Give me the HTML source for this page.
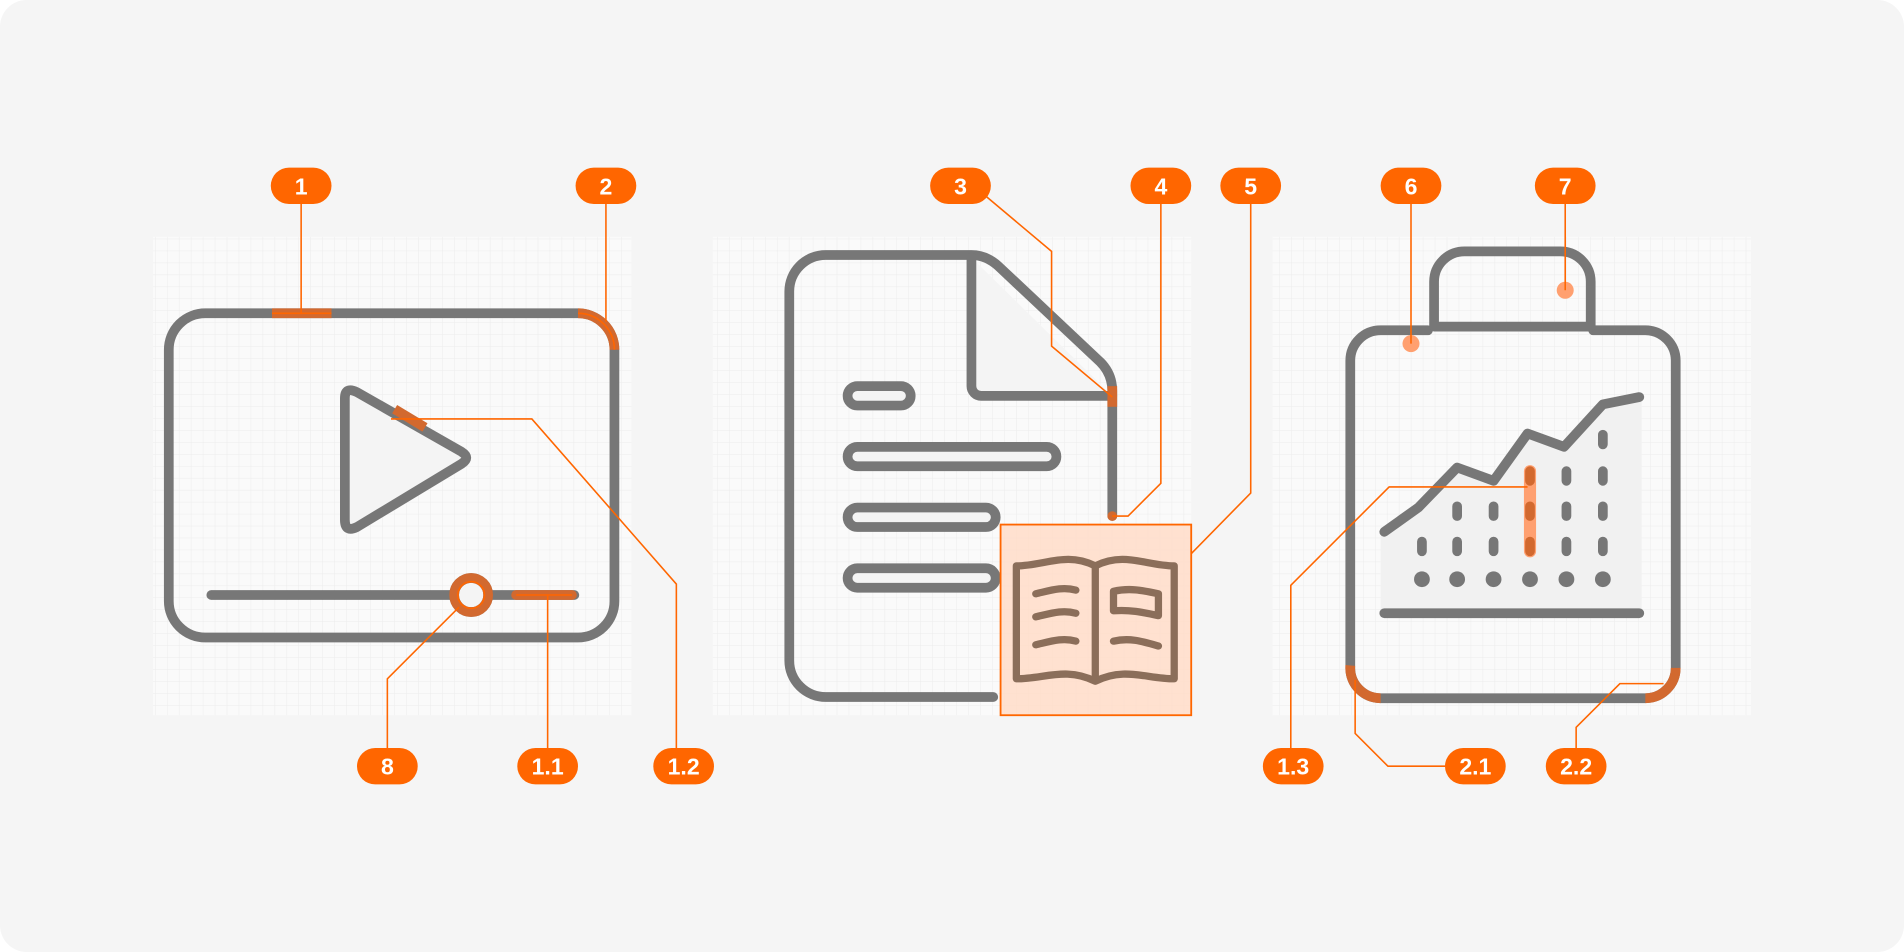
<!DOCTYPE html>
<html><head><meta charset="utf-8"><style>
html,body{margin:0;padding:0;background:#fff;}
svg{display:block;}
text{font-family:"Liberation Sans",sans-serif;font-weight:bold;font-size:19px;fill:#fff;text-anchor:middle;}
</style></head><body>
<svg width="1904" height="952" viewBox="0 0 1568 784" xmlns="http://www.w3.org/2000/svg">
<defs>
<pattern id="g" x="0" y="0" width="9.85" height="9.85" patternUnits="userSpaceOnUse">
<path d="M9.85 0V9.85H0" fill="none" stroke="#ececec" stroke-width="0.8"/>
</pattern>
</defs>
<rect x="0" y="0" width="1568" height="784" rx="22" fill="#f5f5f5"/>
<g>
<rect x="126" y="195" width="394" height="394" fill="#fafafa"/><rect x="126" y="195" width="394" height="394" fill="url(#g)"/>
<rect x="587" y="195" width="394" height="394" fill="#fafafa"/><rect x="587" y="195" width="394" height="394" fill="url(#g)"/>
<rect x="1048" y="195" width="394" height="394" fill="#fafafa"/><rect x="1048" y="195" width="394" height="394" fill="url(#g)"/>
</g>

<!-- Panel 1 -->
<g fill="none" stroke="#777" stroke-width="8" stroke-linecap="round" stroke-linejoin="round">
<rect x="139" y="258" width="367" height="267" rx="30"/>
<path d="M284 328 Q284 318 294 323 L380 372 Q388 377 380 382 L294 434 Q284 439 284 428 Z" fill="#f4f4f4"/>
<line x1="174" y1="490" x2="473" y2="490"/>
<circle cx="388" cy="490" r="14" fill="#f4f4f4"/>
</g>
<g fill="none" stroke="#d2692f" stroke-width="8">
<line x1="224" y1="258" x2="273" y2="258"/>
<path d="M476 258 A30 30 0 0 1 506 288"/>
<line x1="325" y1="337" x2="350" y2="352"/>
<line x1="425" y1="490" x2="471" y2="490" stroke-linecap="round"/>
<circle cx="388" cy="490" r="14"/>
</g>
<g fill="none" stroke="#ff6600" stroke-width="1.3">
<line x1="224" y1="258" x2="273" y2="258"/>
<path d="M476 258 A30 30 0 0 1 506 288"/>
<line x1="425" y1="490" x2="471" y2="490"/>
<circle cx="388" cy="490" r="11"/>
<path d="M248 168V258"/>
<path d="M499 168V265"/>
<path d="M322 345H438L557 481V616"/>
<path d="M319 616V559L378 500"/>
<path d="M451 616V490"/>
</g>

<!-- Panel 2 -->
<g fill="none" stroke="#777" stroke-width="8" stroke-linecap="round" stroke-linejoin="round">
<path d="M818 574H680A30 30 0 0 1 650 544V240A30 30 0 0 1 680 210H800Q812 210 822 219L906 298Q916 308 916 322V425"/>
<path d="M800 212V318A8 8 0 0 0 808 326H916" fill="#f4f4f4"/>
<rect x="698" y="318" width="52" height="16" rx="8" fill="#f4f4f4"/>
<rect x="698" y="368" width="172" height="16" rx="8" fill="#f4f4f4"/>
<rect x="698" y="418" width="122" height="16" rx="8" fill="#f4f4f4"/>
<rect x="698" y="468" width="122" height="16" rx="8" fill="#f4f4f4"/>
</g>
<rect x="912" y="318" width="8" height="17" fill="#d2692f"/>
<circle cx="916" cy="425" r="4" fill="#d2692f"/>
<rect x="824" y="432" width="157" height="157" fill="#ffdcc8" fill-opacity="0.85" stroke="#ff6600" stroke-width="1.5"/>
<g fill="none" stroke="#8b6e5a" stroke-width="6" stroke-linecap="round" stroke-linejoin="round">
<path d="M837 466C860 466 878 454 902 466C926 454 944 466 967 466V559C944 559 926 549 902 561C878 549 860 559 837 559Z"/>
<line x1="902" y1="466" x2="902" y2="559"/>
<path d="M853 489C866 486 875 483 886 486M853 508C866 505 875 502 886 505M853 531C866 528 875 525 886 528"/>
<path d="M917 487C930 484 940 486 954 489V507C940 504 930 502 917 503Z"/>
<path d="M917 528C930 525 940 528 954 532"/>
</g>
<g fill="none" stroke="#ff6600" stroke-width="1.3">
<path d="M810 160L866 207V285L916 327"/>
<path d="M956 168V398L929 425H916"/>
<path d="M1030 168V406L981 456"/>
</g>

<!-- Panel 3 -->
<path d="M1140 438L1168 418L1200 385L1230 396L1258 357L1288 368L1320 333L1352 327V505H1137V438Z" fill="#f1f1f1"/>
<g fill="none" stroke="#777" stroke-width="8" stroke-linecap="round" stroke-linejoin="round">
<path d="M1176 272H1137A25 25 0 0 0 1112 297V550A25 25 0 0 0 1137 575H1355A25 25 0 0 0 1380 550V297A25 25 0 0 0 1355 272H1312"/>
<path d="M1181 269V232A25 25 0 0 1 1206 207H1285A25 25 0 0 1 1310 232V269Z"/>
<path d="M1140 438L1168 418L1200 385L1230 396L1258 357L1288 368L1320 333L1350 327"/>
<line x1="1140" y1="505" x2="1350" y2="505"/>
</g>
<g stroke="#777" stroke-width="8" stroke-linecap="round">
<path d="M1171 446v8M1200 446v8M1200 417v8M1230 446v8M1230 417v8M1290 446v8M1290 417v8M1290 388v8M1320 446v8M1320 417v8M1320 388v8M1320 358v8"/>
</g>
<line x1="1260" y1="388" x2="1260" y2="454" stroke="#ffa070" stroke-width="10" stroke-linecap="round"/>
<path d="M1260 446v8M1260 417v8M1260 388v8" stroke="#d2692f" stroke-width="8" stroke-linecap="round"/>
<g fill="#777"><circle cx="1171" cy="477" r="6.5"/><circle cx="1200" cy="477" r="6.5"/><circle cx="1230" cy="477" r="6.5"/><circle cx="1260" cy="477" r="6.5"/><circle cx="1290" cy="477" r="6.5"/><circle cx="1320" cy="477" r="6.5"/></g>
<g fill="none" stroke="#d2692f" stroke-width="8">
<path d="M1112 548A25 25 0 0 0 1137 575"/>
<path d="M1355 575A25 25 0 0 0 1380 550"/>
</g>
<circle cx="1162" cy="283" r="7" fill="#ffa070"/>
<circle cx="1289" cy="239" r="7" fill="#ffa070"/>
<g fill="none" stroke="#ff6600" stroke-width="1.3">
<path d="M1162 168V283"/>
<path d="M1289 168V239"/>
<path d="M1063 616V482L1144 401H1258"/>
<path d="M1190 631H1143L1116 604V560"/>
<path d="M1298 616V599L1334 563H1370"/>
</g>

<!-- labels -->
<g fill="#ff6600">
<rect x="223" y="138" width="50" height="30" rx="15"/>
<rect x="474" y="138" width="50" height="30" rx="15"/>
<rect x="766" y="138" width="50" height="30" rx="15"/>
<rect x="931" y="138" width="50" height="30" rx="15"/>
<rect x="1005" y="138" width="50" height="30" rx="15"/>
<rect x="1137" y="138" width="50" height="30" rx="15"/>
<rect x="1264" y="138" width="50" height="30" rx="15"/>
<rect x="294" y="616" width="50" height="30" rx="15"/>
<rect x="426" y="616" width="50" height="30" rx="15"/>
<rect x="538" y="616" width="50" height="30" rx="15"/>
<rect x="1040" y="616" width="50" height="30" rx="15"/>
<rect x="1190" y="616" width="50" height="30" rx="15"/>
<rect x="1273" y="616" width="50" height="30" rx="15"/>
</g>
<text x="248" y="160">1</text><text x="499" y="160">2</text><text x="791" y="160">3</text><text x="956" y="160">4</text><text x="1030" y="160">5</text><text x="1162" y="160">6</text><text x="1289" y="160">7</text>
<text x="319" y="638">8</text><text x="451" y="638">1.1</text><text x="563" y="638">1.2</text><text x="1065" y="638">1.3</text><text x="1215" y="638">2.1</text><text x="1298" y="638">2.2</text>
</svg>
</body></html>
